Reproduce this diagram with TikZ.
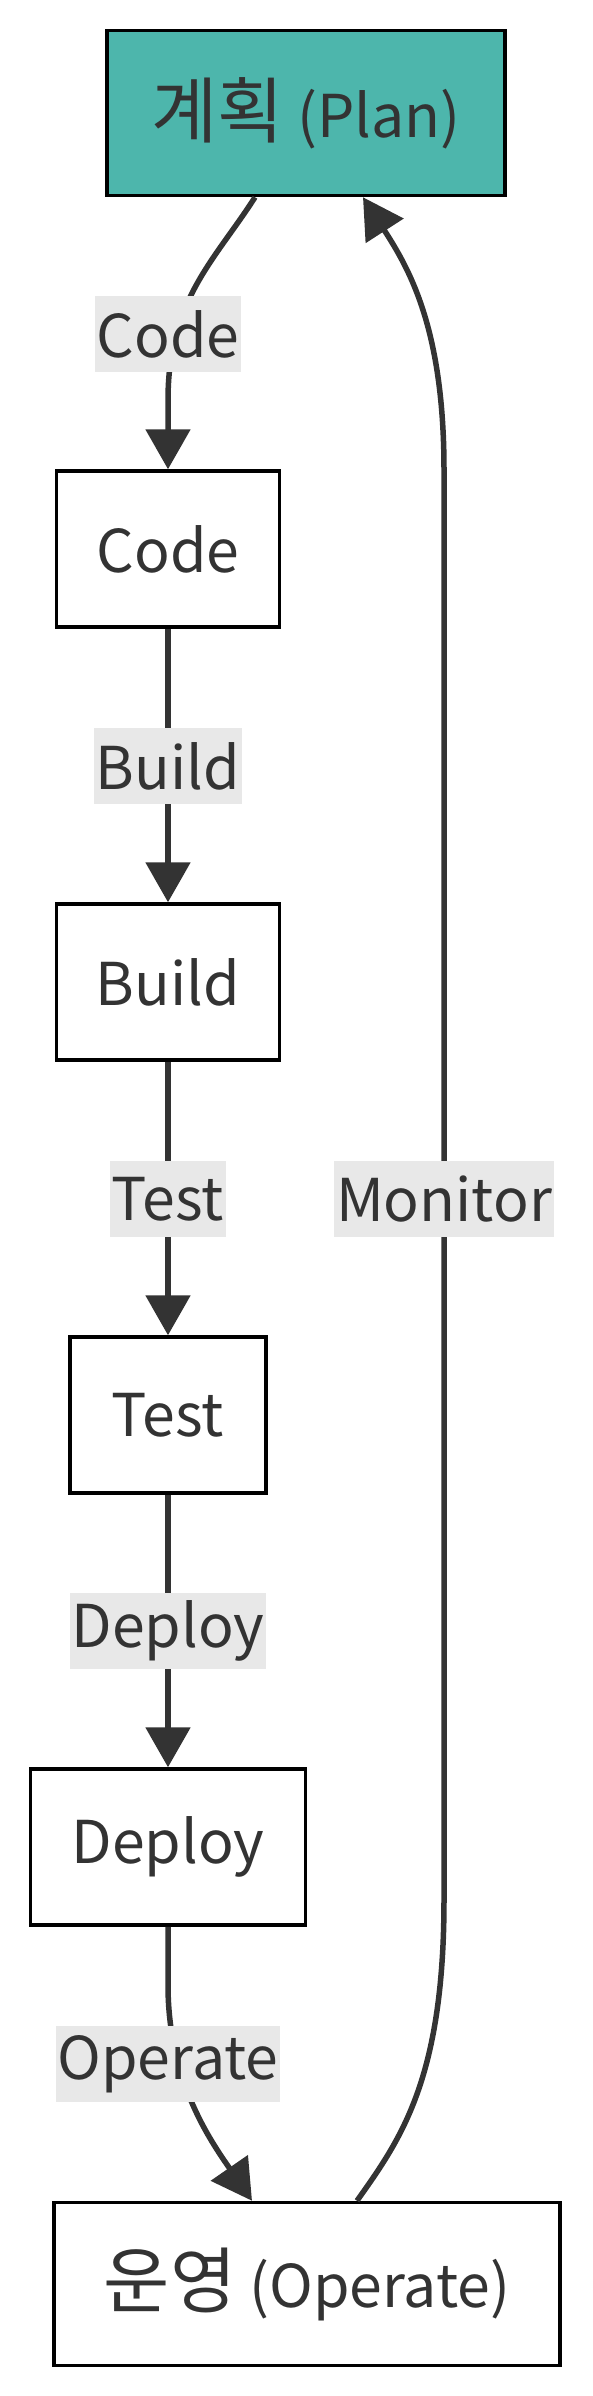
\documentclass[tikz,border=0pt]{standalone}
\usepackage{fontspec}
\setmainfont{Noto Sans CJK KR}
\newfontfamily\krfont{Noto Sans CJK KR}[Scale=1.22]
\usetikzlibrary{arrows.meta}
\definecolor{ink}{HTML}{333333}
\definecolor{teal}{HTML}{4DB6AC}
\definecolor{lblbg}{HTML}{E8E8E8}
\begin{document}
\begin{tikzpicture}[x=1pt,y=-1pt,
        every node/.style={font=\fontsize{59}{66}\selectfont, text=ink},
        box/.style={draw=black, line width=3.5pt, minimum height=156pt, inner sep=0pt},
        lbl/.style={fill=lblbg, inner xsep=2pt, inner ysep=0pt, minimum height=76pt},
        edge/.style={draw=ink, line width=5.5pt, -{Triangle[length=40pt,width=44pt]}}]
        \useasboundingbox (0,0) rectangle (592,2396);
        % stages
        \node[box, fill=teal, minimum width=398pt, minimum height=165pt] (plan) at (306,113) {{\krfont 계획} (Plan)};
        \node[box, minimum width=223pt] (code) at (168,549) {Code};
        \node[box, minimum width=223pt] (build) at (168,982) {Build};
        \node[box, minimum width=196pt] (test) at (168,1415) {Test};
        \node[box, minimum width=275pt] (deploy) at (168,1847) {Deploy};
        \node[box, minimum width=506pt, minimum height=163pt] (operate) at (307,2284) {{\krfont 운영} (Operate)};
        % edges
        \draw[edge] ([xshift=-51pt]plan.south) .. controls (215,260) and (168,300) .. (168,400) -- (code.north);
        \draw[edge] (code) -- (build);
        \draw[edge] (build) -- (test);
        \draw[edge] (test) -- (deploy);
        \draw[edge] (deploy.south) -- (168,1985) .. controls (168,2080) and (210,2140) .. ([xshift=-55pt]operate.north);
        \draw[edge] ([xshift=50pt]operate.north) .. controls (400,2140) and (444,2080) .. (444,1900)
            -- (444,470) .. controls (444,330) and (410,270) .. ([xshift=57pt]plan.south);
        % labels
        \node[lbl] (lcode) at (168,334) {Code};
        \node[lbl] (lbuild) at (168,766) {Build};
        \node[lbl] (ltest) at (168,1199) {Test};
        \node[lbl] (ldeploy) at (168,1631) {Deploy};
        \node[lbl] (loperate) at (168,2064) {Operate};
        \node[lbl] (lmonitor) at (444,1199) {Monitor};
    \end{tikzpicture}
\end{document}
